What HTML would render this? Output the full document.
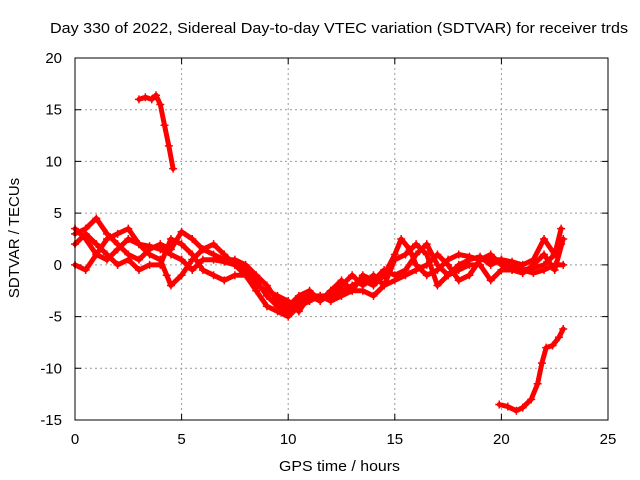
<!DOCTYPE html>
<html><head><meta charset="utf-8"><style>
html,body{margin:0;padding:0;background:#fff}
svg{display:block;font-family:"Liberation Sans",sans-serif}
</style></head><body>
<svg id="chart" width="640" height="480">
<text x="50" y="33" font-size="15" textLength="578" lengthAdjust="spacingAndGlyphs">Day 330 of 2022, Sidereal Day-to-day VTEC variation (SDTVAR) for receiver trds</text>
<text x="279" y="471" font-size="15" textLength="121" lengthAdjust="spacingAndGlyphs">GPS time / hours</text>
<text transform="translate(19,238) rotate(-90)" text-anchor="middle" font-size="15">SDTVAR / TECUs</text>
<g id="grid"></g><g id="series"></g>
<rect x="75" y="58" width="533" height="362" fill="none" stroke="#000" stroke-width="1"/>
</svg>
<script>
const xTicks=[0,5,10,15,20,25];
const yTicks=[-15,-10,-5,0,5,10,15,20];
const trackTop=[[3.0,16.0],[3.3,16.2],[3.6,16.0],[3.8,16.4],[4.0,15.5],[4.2,13.5],[4.4,11.5],[4.6,9.3]];
const trackBottom=[[19.9,-13.5],[20.3,-13.7],[20.7,-14.1],[21.0,-13.8],[21.4,-13.0],[21.7,-11.5],[21.9,-9.5],[22.1,-8.0],[22.4,-7.8],[22.7,-7.0],[22.9,-6.2]];
const track1=[[0,3.5],[0.5,2.5],[1,1],[1.5,0.5],[2,1.5],[2.5,2.5],[3,2.0],[3.5,1.8],[4,1.5],[4.5,1.0],[5,0.5],[5.5,-0.5],[6,0.5],[6.5,0.5],[7,0.3],[7.5,0],[8,-0.5],[8.5,-1.5],[9,-3],[9.5,-4],[10,-4.5],[10.5,-3.5],[11,-3],[11.5,-3],[12,-3],[12.5,-2.5],[13,-2],[13.5,-1.5],[14,-2],[14.5,-1],[15,1],[15.3,2.5],[15.7,1.5],[16,0],[16.5,-1],[17,-0.5],[17.5,0.5],[18,1],[18.5,0.8],[19,0.5],[19.5,0.5],[20,0.5],[20.5,0],[21,-0.5],[21.5,-0.3],[22,0],[22.5,1],[22.8,2]];
const track2=[[0,3],[0.5,3.5],[1,4.5],[1.5,3],[2,2],[2.5,1],[3,0.5],[3.5,1.5],[4,2],[4.5,1.5],[5,3.2],[5.5,2.5],[6,1.5],[6.5,1],[7,0.5],[7.5,0.5],[8,0],[8.5,-1],[9,-2],[9.5,-3.5],[10,-4],[10.5,-3],[11,-2.5],[11.5,-3.5],[12,-2.5],[12.5,-2],[13,-1],[13.5,-2],[14,-1],[14.5,-2],[15,0.5],[15.5,1],[16,2],[16.5,1],[17,-2],[17.5,-1],[18,0],[18.5,0.5],[19,0.8],[19.5,0],[20,0.5],[20.5,0.3],[21,0],[21.5,0.5],[22,2.5],[22.5,1],[22.8,3.5]];
const track3=[[0,0],[0.5,-0.5],[1,1],[1.5,2.5],[2,3],[2.5,3.5],[3,2],[3.5,1],[4,0.5],[4.3,-1],[4.5,-2],[5,-1],[5.5,0.5],[6,1.5],[6.5,2],[7,1],[7.5,0],[8,-1],[8.5,-2],[9,-2.5],[9.5,-3],[10,-3.5],[10.5,-4.5],[11,-3],[11.5,-3.5],[12,-2.5],[12.5,-1.5],[13,-2.5],[13.5,-1],[14,-1.5],[14.5,-0.5],[15,-1],[15.5,-0.5],[16,1],[16.5,2],[17,0],[17.5,-1],[18,-0.5],[18.5,0],[19,0],[19.5,-1.5],[20,-0.5],[20.5,-0.5],[21,-0.5],[21.5,-0.8],[22,-0.5],[22.5,0],[22.9,0]];
const track4=[[0,2],[0.5,3],[1,2],[1.5,1],[2,0],[2.5,0.5],[3,-0.5],[3.5,0],[4,0],[4.5,2.5],[5,2],[5.5,1],[6,-0.5],[6.5,-1],[7,-1.5],[7.5,-1],[8,-1],[8.5,-2.5],[9,-4],[9.5,-4.5],[10,-5],[10.5,-4],[11,-3.5],[11.5,-3],[12,-3.5],[12.5,-3],[13,-2.5],[13.5,-2.5],[14,-3],[14.5,-2],[15,-1.5],[15.5,-1],[16,-0.5],[16.5,0],[17,1],[17.5,0],[18,-1.5],[18.5,-1],[19,0.5],[19.5,1],[20,0],[20.5,-0.5],[21,-0.8],[21.5,0],[22,1],[22.5,-0.5],[22.9,2.5]];
const NS="http://www.w3.org/2000/svg";
const X0=75,X1=608,Y0=420,Y1=58;
const xs=v=>X0+(v-0)/(25-0)*(X1-X0);
const ys=v=>Y0-(v+15)/(35)*(Y0-Y1);
const grid=document.getElementById('grid'),ser=document.getElementById('series');
function mk(tag,attrs,parent){const e=document.createElementNS(NS,tag);for(const k in attrs)e.setAttribute(k,attrs[k]);parent.appendChild(e);return e;}
xTicks.forEach(t=>{const x=xs(t);
 if(t>0&&t<25){const g=mk('line',{x1:x,x2:x,y1:Y1,y2:Y0,stroke:'#999','stroke-dasharray':'2,3','stroke-width':1},grid);
 
 }
 const tk=mk('path',{d:`M${x},${Y0}v-6M${x},${Y1}v6`,stroke:'#000'},grid);
 
 
 const l=mk('text',{x:x,y:444,'text-anchor':'middle','font-size':15},grid);l.textContent=t;
 
 });
yTicks.forEach(t=>{const y=ys(t);
 if(t>-15&&t<20){const g=mk('line',{x1:X0,x2:X1,y1:y,y2:y,stroke:'#999','stroke-dasharray':'2,3','stroke-width':1},grid);
 
 }
 const tk=mk('path',{d:`M${X0},${y}h6M${X1},${y}h-6`,stroke:'#000'},grid);
 
 
 const l=mk('text',{x:62,y:y+5,'text-anchor':'end','font-size':15},grid);l.textContent=t;
 
 });
[trackTop,trackBottom,track1,track2,track3,track4].forEach((tr,i)=>{
 const d=tr.map((p,j)=>(j?'L':'M')+xs(p[0]).toFixed(1)+','+ys(p[1]).toFixed(1)).join('');
 const pl=mk('path',{d:d,fill:'none',stroke:'#f00','stroke-width':5,'stroke-linejoin':'round','stroke-linecap':'round'},ser);
 
 
 tr.forEach(p=>{const x=xs(p[0]),y=ys(p[1]);
  const m=mk('path',{d:`M${x-4},${y}h8M${x},${y-4}v8`,stroke:'#f00','stroke-width':1.5},ser);
  
  });
});
</script>
</body></html>
